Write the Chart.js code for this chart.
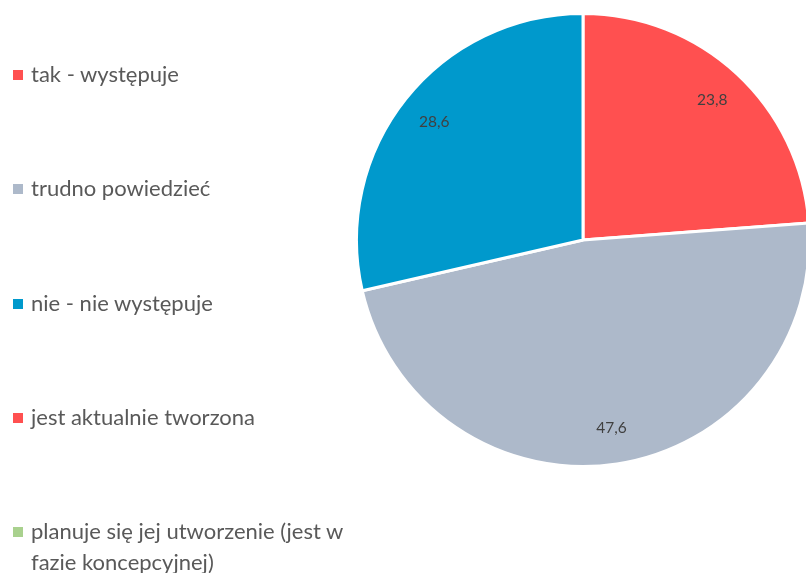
<!DOCTYPE html>
<html>
<head>
<meta charset="utf-8">
<script src="https://cdn.jsdelivr.net/npm/chart.js@4.4.0/dist/chart.umd.min.js"></script>
<style>
  html, body { margin: 0; padding: 0; background: #fff; overflow: hidden; }
  body { width: 806px; height: 573px; position: relative; }
  #wrap { position: absolute; left: 0; top: 0; width: 830px; height: 573px; }
  #legend { position: absolute; left: 0; top: 0; font-family: Lato, "Open Sans", sans-serif; font-size: 22px; color: #595959; }
  .item { position: absolute; left: 13px; white-space: nowrap; line-height: 31px; }
  .box { position: absolute; left: 0; top: 10px; width: 10px; height: 10px; }
  .txt { position: absolute; left: 18px; top: -2px; }
</style>
</head>
<body>
<div id="wrap"><canvas id="chart-area"></canvas></div>
<div id="legend"></div>
<script>
// data
const categories = [
  'tak - występuje',
  'trudno powiedzieć',
  'nie - nie występuje',
  'jest aktualnie tworzona',
  ['planuje się jej utworzenie (jest w', 'fazie koncepcyjnej)']
];
const values = [23.8, 47.6, 28.6, 0, 0];
const colors = ['#FF5050', '#ADB9CA', '#0099CC', '#FF5050', '#A9D18E'];

// legend on the left
let legend = document.getElementById('legend');
for (let i = 0; i < categories.length; i++) {
  let lines = Array.isArray(categories[i]) ? categories[i] : [categories[i]];
  let div = document.createElement('div');
  div.className = 'item';
  div.style.top = (60 + i * 114.3) + 'px';
  div.innerHTML = '<div class="box" style="background:' + colors[i] + '"></div>' +
    '<div class="txt">' + lines.join('<br>') + '</div>';
  legend.appendChild(div);
}

// value labels inside the slices
const sliceLabels = {
  id: 'sliceLabels',
  afterDatasetsDraw(chart) {
    let ctx = chart.ctx;
    let meta = chart.getDatasetMeta(0);
    ctx.save();
    ctx.font = '15.5px Lato, "Open Sans", sans-serif';
    ctx.fillStyle = '#404040';
    ctx.textAlign = 'center';
    ctx.textBaseline = 'middle';
    meta.data.forEach(function(arc, i) {
      if (!values[i]) return;
      let p = arc.getProps(['x', 'y', 'startAngle', 'endAngle', 'outerRadius'], true);
      let mid = (p.startAngle + p.endAngle) / 2;
      let r = p.outerRadius * 0.84;
      ctx.fillText(String(values[i]).replace('.', ','), p.x + Math.cos(mid) * r, p.y + Math.sin(mid) * r);
    });
    ctx.restore();
  }
};

let canvas = document.getElementById('chart-area');
canvas.width = 830; canvas.height = 573;
new Chart(canvas.getContext('2d'), {
  type: 'pie',
  data: {
    labels: categories,
    datasets: [{
      data: values,
      backgroundColor: colors,
      borderColor: '#ffffff',
      borderWidth: 3
    }]
  },
  options: {
    responsive: false,
    animation: false,
    layout: { padding: { left: 355, right: 19, top: 12, bottom: 105 } },
    plugins: {
      legend: { display: false },
      tooltip: { enabled: false }
    }
  },
  plugins: [sliceLabels]
});
</script>
</body>
</html>
